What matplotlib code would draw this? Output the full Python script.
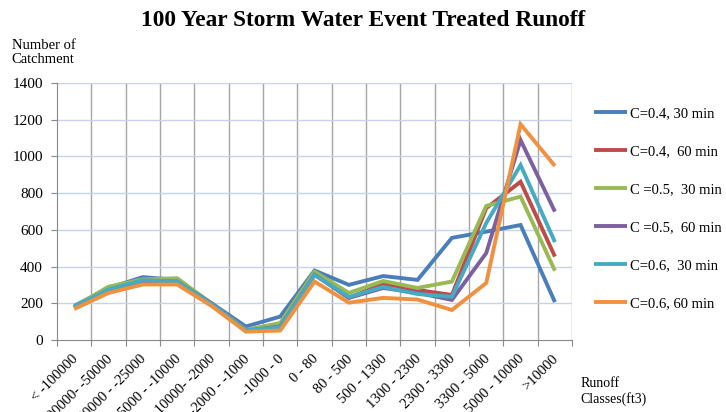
import matplotlib.pyplot as plt

# Runoff classes (ft3) and catchment counts for each runoff coefficient / duration
classes = ["< -100000", "-100000- -50000", "-50000 - -25000", "-25000 - -10000",
           "-10000- -2000", "-2000 - -1000", "-1000 - 0", "0 - 80", "80 - 500",
           "500 - 1300", "1300 - 2300", "2300 - 3300", "3300 - 5000",
           "5000 - 10000", ">10000"]

c04_30 = [185, 283, 342, 327, 200, 73, 127, 378, 300, 348, 327, 556, 590, 626, 206]
c04_60 = [178, 275, 325, 320, 195, 55, 75, 360, 229, 305, 272, 245, 718, 862, 454]
c05_30 = [180, 290, 330, 336, 198, 55, 92, 372, 256, 321, 283, 318, 730, 781, 377]
c05_60 = [175, 270, 320, 318, 198, 50, 73, 355, 229, 283, 256, 218, 473, 1089, 699]
c06_30 = [180, 275, 325, 318, 195, 52, 70, 354, 234, 289, 250, 235, 637, 953, 533]
c06_60 = [168, 256, 302, 302, 185, 45, 51, 318, 203, 229, 220, 163, 310, 1175, 948]

series = [
    ("C=0.4, 30 min", c04_30, "#4a7ebb"),
    ("C=0.4,  60 min", c04_60, "#be4b48"),
    ("C =0.5,  30 min", c05_30, "#98b954"),
    ("C =0.5,  60 min", c05_60, "#7d60a0"),
    ("C=0.6,  30 min", c06_30, "#46aac5"),
    ("C=0.6, 60 min", c06_60, "#f0913f"),
]

plt.rcParams["font.family"] = ["Liberation Serif", "DejaVu Serif"]

fig = plt.figure(figsize=(7.26, 4.12), dpi=100)
ax = fig.add_axes([0.0785, 0.175, 0.7095, 0.6235])

x = list(range(len(classes)))
for label, values, color in series:
    ax.plot(x, values, color=color, linewidth=2.8, label=label,
            solid_joinstyle="miter", solid_capstyle="butt")

ax.set_xlim(-0.5, len(classes) - 0.5)
ax.set_ylim(0, 1400)
ax.set_yticks(range(0, 1401, 200))
ax.tick_params(axis="y", labelsize=11, length=4, color="#888888", pad=6)

# category boundaries carry the tick marks and the vertical grid
ax.set_xticks([i - 0.5 for i in range(len(classes) + 1)])
ax.set_xticklabels([])
ax.tick_params(axis="x", length=4, color="#888888")
for i in range(1, len(classes) + 1):
    ax.axvline(i - 0.5, color="#a6a6a6", linewidth=1.0, zorder=0)
for v in range(200, 1401, 200):
    ax.axhline(v, color="#c5d3ec", linewidth=1.0, zorder=0)

for side in ["top", "right"]:
    ax.spines[side].set_visible(False)
ax.spines["left"].set_color("#888888")
ax.spines["bottom"].set_color("#888888")

for i, name in enumerate(classes):
    ax.annotate(name, xy=(i, 0), xycoords=("data", "axes fraction"),
                xytext=(-2, -9), textcoords="offset points",
                rotation=45, ha="right", va="top", rotation_mode="anchor",
                fontsize=10.5)

fig.text(0.5, 0.975, "100 Year Storm Water Event Treated Runoff",
         ha="center", va="top", fontsize=16.8, fontweight="bold")
fig.text(0.016, 0.905, "Number of\nCatchment", ha="left", va="top",
         fontsize=10.5, linespacing=1.05)
fig.text(0.80, 0.085, "Runoff\nClasses(ft3)", ha="left", va="top",
         fontsize=10, linespacing=1.2)

fig.legend(loc="upper left", bbox_to_anchor=(0.81, 0.755), frameon=False,
           fontsize=10.5, labelspacing=1.7, handlelength=2.3,
           handletextpad=0.15, borderaxespad=0)

fig.savefig("out.png", dpi=100)
